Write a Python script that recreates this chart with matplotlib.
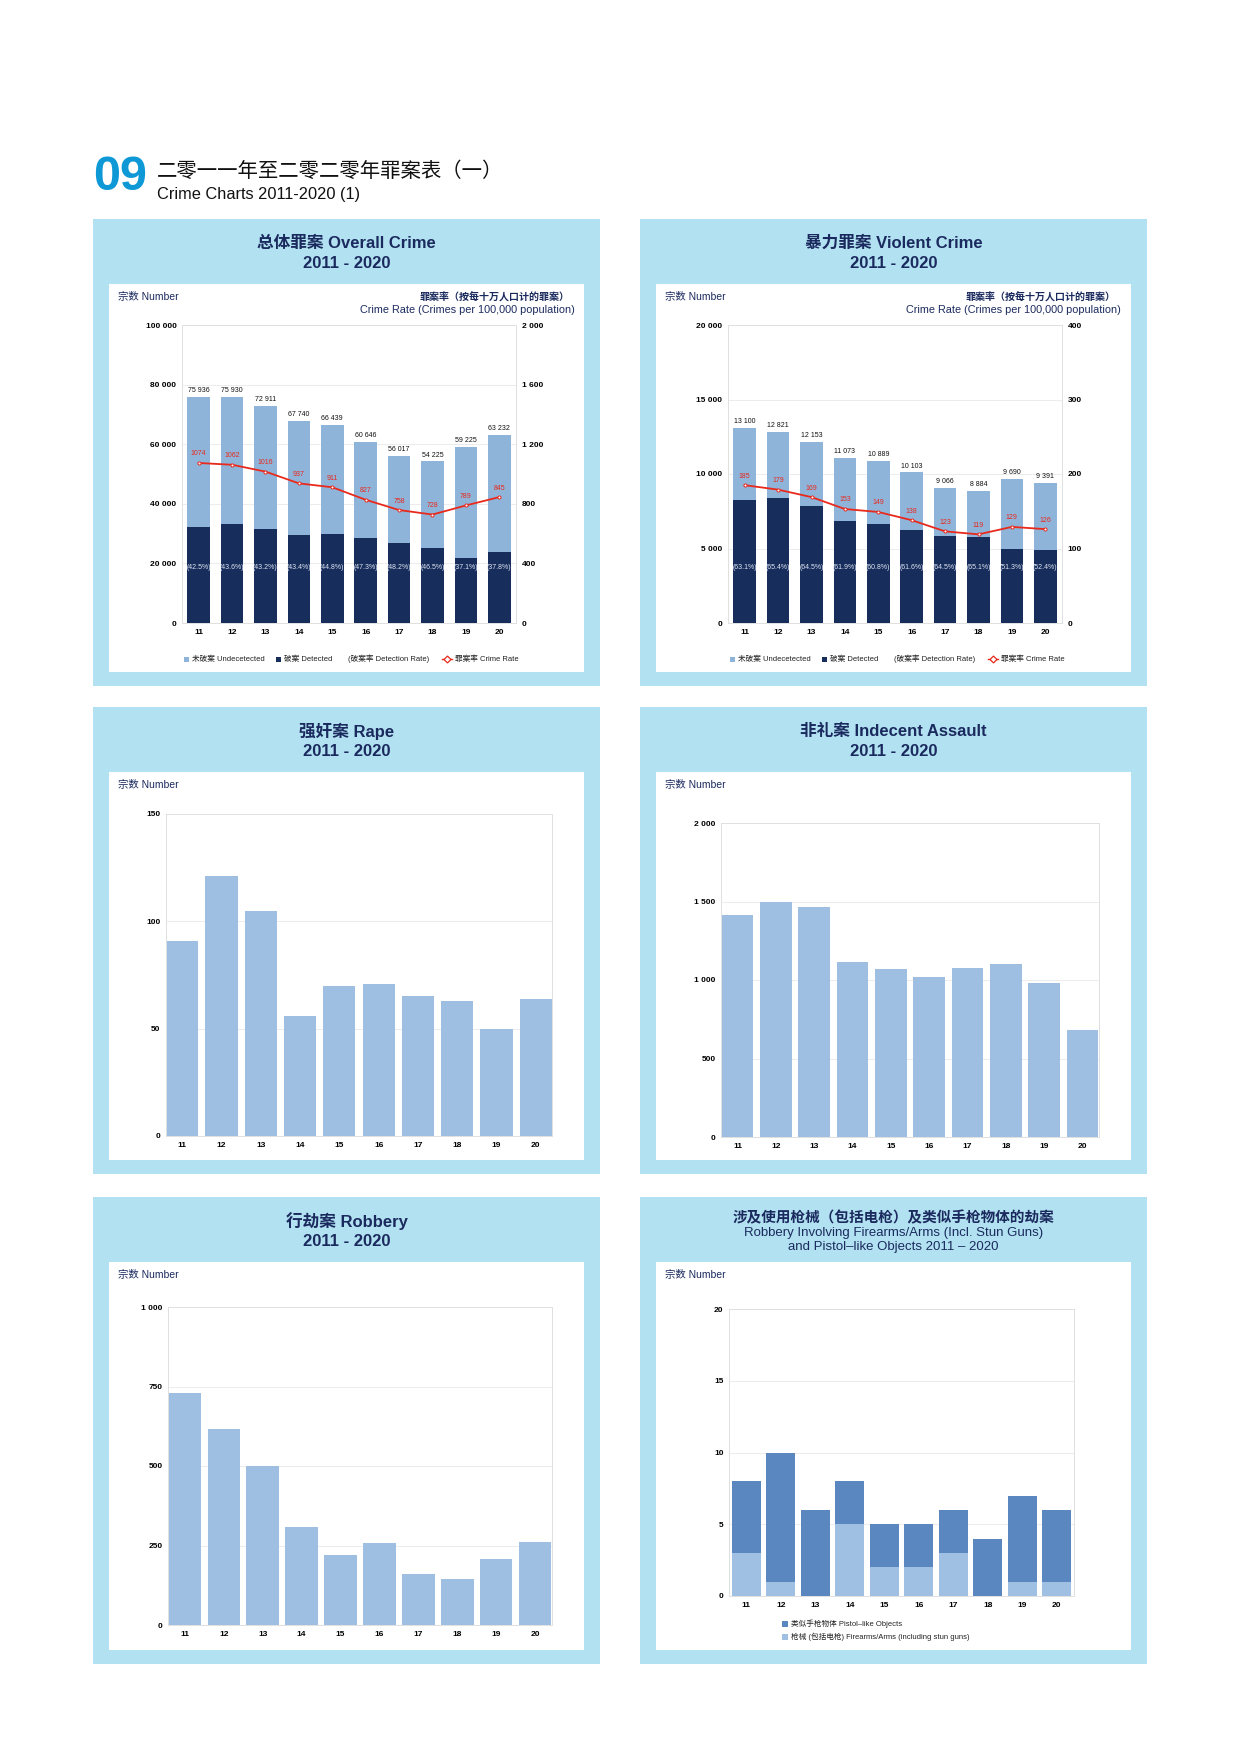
import matplotlib
matplotlib.use('Agg')
import matplotlib.pyplot as plt
from matplotlib.patches import Rectangle
from matplotlib.lines import Line2D
import matplotlib.transforms as mtransforms

plt.rcParams['font.family'] = ['Liberation Sans', 'Noto Sans CJK SC']

# ---- data ----
years = ['11', '12', '13', '14', '15', '16', '17', '18', '19', '20']

overall_total = [75936, 75930, 72911, 67740, 66439, 60646, 56017, 54225, 59225, 63232]
overall_detected = [32273, 33105, 31498, 29399, 29765, 28686, 27000, 25215, 21972, 23902]
overall_det_rate = [42.5, 43.6, 43.2, 43.4, 44.8, 47.3, 48.2, 46.5, 37.1, 37.8]
overall_crime_rate = [1074, 1062, 1016, 937, 911, 827, 758, 728, 789, 845]

violent_total = [13100, 12821, 12153, 11073, 10889, 10103, 9066, 8884, 9690, 9391]
violent_detected = [8266, 8385, 7839, 6854, 6621, 6223, 5848, 5783, 4971, 4921]
violent_det_rate = [63.1, 65.4, 64.5, 61.9, 60.8, 61.6, 64.5, 65.1, 51.3, 52.4]
violent_crime_rate = [185, 179, 169, 153, 149, 138, 123, 119, 129, 126]

rape = [91, 121, 105, 56, 70, 71, 65, 63, 50, 64]
indecent = [1414, 1495, 1463, 1115, 1068, 1019, 1076, 1100, 983, 684]
robbery = [730, 615, 500, 307, 221, 258, 160, 145, 208, 262]
firearms = [3, 1, 0, 5, 2, 2, 3, 0, 1, 1]
pistol_like = [5, 9, 6, 3, 3, 3, 3, 4, 6, 5]

# ---- style ----
W, H = 1240, 1754
NAVY = '#1b2a5e'
PANEL_BG = '#b2e2f1'
LIGHT_BAR = '#8fb4da'
DARK_BAR = '#172d5c'
SINGLE_BAR = '#9ebfe2'
PISTOL = '#5a87bf'
FIREARM = '#9fc0e2'
RED = '#e8291c'
GRID = '#ececec'

fig = plt.figure(figsize=(12.4, 17.54), dpi=100)


def rect(x0, y0, x1, y1):
    # pixel box (top-left origin) -> figure fraction
    return [x0 / W, 1 - y1 / H, (x1 - x0) / W, (y1 - y0) / H]


def ftext(x, y, s, **kw):
    fig.text(x / W, 1 - y / H, s, **kw)


def fbox(x0, y0, x1, y1, color, z=-2):
    r = rect(x0, y0, x1, y1)
    fig.add_artist(Rectangle((r[0], r[1]), r[2], r[3], transform=fig.transFigure,
                             facecolor=color, edgecolor='none', zorder=z))


def fmt(v):
    return f'{int(v):,}'.replace(',', ' ')


def panel(x0, y0, titles, sizes=(12, 12), ys=(24, 45)):
    x1, y1 = x0 + 507, y0 + 467
    fbox(x0, y0, x1, y1, PANEL_BG, z=-3)
    fbox(x0 + 16, y0 + 65, x1 - 16, y1 - 14, 'white', z=-2)
    cx = (x0 + x1) / 2
    for i, t in enumerate(titles):
        w = 'bold' if (i == 0 or len(titles) == 2) else 'normal'
        ftext(cx, y0 + ys[i], t, ha='center', va='center',
              fontsize=sizes[i], fontweight=w, color=NAVY)
    ftext(x0 + 25, y0 + 78, '宗数 Number', fontsize=7.5, color=NAVY, va='center')


def style(ax, ymax, step, xpad):
    ax.set_zorder(2)
    ax.set_xlim(-xpad, 9 + xpad)
    ax.set_ylim(0, ymax)
    ticks = list(range(0, ymax + 1, step))
    ax.set_yticks(ticks, labels=[fmt(t) for t in ticks], fontsize=6, fontweight='bold')
    ax.set_xticks(range(10), labels=years, fontsize=6, fontweight='bold')
    ax.tick_params(length=0, pad=4)
    ax.grid(axis='y', color=GRID, lw=0.7)
    ax.set_axisbelow(True)
    for s in ax.spines.values():
        s.set_color('#e0e0e0')
        s.set_linewidth(0.7)


def legend_square(x, y, color, label, size=5):
    fbox(x, y - size / 2, x + size, y + size / 2, color, z=3)
    ftext(x + size + 3, y, label, fontsize=5.5, va='center', color='#222222')


def legend_rate(x, y, label):
    fig.add_artist(Line2D([x / W, (x + 10) / W], [1 - y / H, 1 - y / H], color=RED, lw=1,
                          transform=fig.transFigure, zorder=3))
    fig.add_artist(Line2D([(x + 5) / W], [1 - y / H], color=RED, marker='D', ms=3.5,
                          mfc='white', mec=RED, mew=0.9, transform=fig.transFigure, zorder=4))
    ftext(x + 13, y, label, fontsize=5.5, va='center', color='#222222')


def crime_chart(px, total, detected, det_rate, crime_rate, ymax, ystep, rmax, rstep):
    x0, y0 = px
    ax = fig.add_axes(rect(x0 + 89, y0 + 106, x0 + 423, y0 + 404))
    xs = list(range(10))
    undetected = [t - d for t, d in zip(total, detected)]
    ax.bar(xs, detected, width=0.68, color=DARK_BAR, zorder=2)
    ax.bar(xs, undetected, width=0.68, bottom=detected, color=LIGHT_BAR, zorder=2)
    style(ax, ymax, ystep, 0.5)
    for x, t in zip(xs, total):
        ax.annotate(fmt(t), (x, t), xytext=(0, 2), textcoords='offset points',
                    ha='center', va='bottom', fontsize=5, color='#111111')
    trans = mtransforms.blended_transform_factory(ax.transData, ax.transAxes)
    for x, r in zip(xs, det_rate):
        ax.text(x, 0.185, f'({r}%)', transform=trans, ha='center', va='center',
                fontsize=5, color='#dfe6f2', zorder=4)
    ax2 = ax.twinx()
    ax2.set_zorder(3)
    ax2.set_ylim(0, rmax)
    rt = list(range(0, rmax + 1, rstep))
    ax2.set_yticks(rt, labels=[fmt(t) for t in rt], fontsize=6, fontweight='bold')
    ax2.tick_params(length=0, pad=4)
    for s in ax2.spines.values():
        s.set_visible(False)
    ax2.plot(xs, crime_rate, color=RED, lw=1.3, marker='o', ms=2.2, mfc='white',
             mec=RED, mew=0.7, zorder=5)
    for x, r in zip(xs, crime_rate):
        ax2.annotate(str(r), (x, r), xytext=(0, 6.5), textcoords='offset points',
                     ha='center', va='center', fontsize=5, color=RED)
    # right axis caption
    ftext(x0 + 477, y0 + 78, '罪案率（按每十万人口计的罪案）', ha='right', va='center',
          fontsize=7.2, color=NAVY, fontweight='bold')
    ftext(x0 + 482, y0 + 91, 'Crime Rate (Crimes per 100,000 population)', ha='right',
          va='center', fontsize=7.8, color=NAVY)
    # legend
    ly = y0 + 440
    legend_square(x0 + 91, ly, LIGHT_BAR, '未破案 Undecetected')
    legend_square(x0 + 183, ly, DARK_BAR, '破案 Detected')
    ftext(x0 + 255, ly, '(破案率 Detection Rate)', fontsize=5.5, va='center', color='#222222')
    legend_rate(x0 + 349, ly, '罪案率 Crime Rate')


def simple_chart(box, values, ymax, ystep, xpad, width):
    ax = fig.add_axes(rect(*box))
    ax.bar(range(10), values, width=width, color=SINGLE_BAR, zorder=2)
    style(ax, ymax, ystep, xpad)
    return ax


# ---- header ----
ftext(93, 178, '09', fontsize=35, fontweight='bold', color='#0e99d6', va='center')
ftext(157, 171, '二零一一年至二零二零年罪案表（一）', fontsize=14.7, va='center', color='#111111')
ftext(157, 194, 'Crime Charts 2011-2020 (1)', fontsize=11.8, va='center', color='#111111')

# ---- panels ----
L, R = 93, 640
ROW = [219, 707, 1197]

panel(L, ROW[0], ['总体罪案 Overall Crime', '2011 - 2020'])
crime_chart((L, ROW[0]), overall_total, overall_detected, overall_det_rate,
            overall_crime_rate, 100000, 20000, 2000, 400)

panel(R, ROW[0], ['暴力罪案 Violent Crime', '2011 - 2020'])
crime_chart((R - 1, ROW[0]), violent_total, violent_detected, violent_det_rate,
            violent_crime_rate, 20000, 5000, 400, 100)

panel(L, ROW[1], ['强奸案 Rape', '2011 - 2020'])
simple_chart((166, 814, 552, 1136), rape, 150, 50, 0.41, 0.82)

panel(R, ROW[1], ['非礼案 Indecent Assault', '2011 - 2020'])
simple_chart((721, 823, 1099, 1137), indecent, 2000, 500, 0.43, 0.82)

panel(L, ROW[2], ['行劫案 Robbery', '2011 - 2020'])
simple_chart((168, 1307, 552, 1625), robbery, 1000, 250, 0.43, 0.83)

panel(R, ROW[2], ['涉及使用枪械（包括电枪）及类似手枪物体的劫案',
                  'Robbery Involving Firearms/Arms (Incl. Stun Guns)',
                  'and Pistol–like Objects 2011 – 2020'],
      sizes=(10.5, 9.5, 9.5), ys=(21, 36, 50))
ax = fig.add_axes(rect(729, 1309, 1074, 1596))
ax.bar(range(10), firearms, width=0.83, color=FIREARM, zorder=2)
ax.bar(range(10), pistol_like, width=0.83, bottom=firearms, color=PISTOL, zorder=2)
style(ax, 20, 5, 0.5)
legend_square(782, 1624, PISTOL, '类似手枪物体 Pistol–like Objects', size=6)
legend_square(782, 1637, FIREARM, '枪械 (包括电枪) Firearms/Arms (including stun guns)', size=6)

fig.savefig('out.png', dpi=100, facecolor='white')
